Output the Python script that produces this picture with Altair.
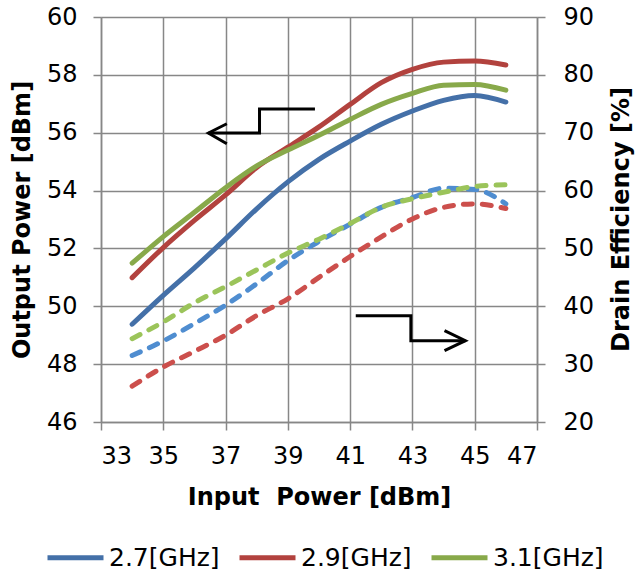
import altair as alt
import pandas as pd

# ---- data ----
pin = [34, 35, 36, 37, 38, 39, 40, 41, 42, 43, 44, 45, 46]
freqs = ["2.7[GHz]", "2.9[GHz]", "3.1[GHz]"]

pout_27 = [49.38, 50.38, 51.33, 52.33, 53.37, 54.30, 55.08, 55.71, 56.29, 56.75, 57.12, 57.29, 57.06]
pout_29 = [50.99, 52.03, 52.97, 53.85, 54.80, 55.50, 56.20, 56.98, 57.73, 58.19, 58.44, 58.48, 58.34]
pout_31 = [51.49, 52.41, 53.25, 54.10, 54.85, 55.40, 55.91, 56.46, 56.98, 57.36, 57.64, 57.67, 57.47]

eff_27 = [31.5, 34.0, 37.0, 40.2, 43.9, 47.9, 51.2, 54.2, 57.1, 58.8, 60.4, 60.2, 57.7]
eff_29 = [26.2, 29.5, 32.2, 35.0, 38.4, 41.3, 45.0, 48.6, 52.0, 55.1, 57.1, 57.7, 56.9]
eff_31 = [34.4, 37.3, 40.6, 43.4, 46.3, 49.2, 51.6, 54.3, 57.1, 58.6, 59.7, 60.7, 61.0]

x_ticks = list(range(33, 48))
left_ticks = list(range(46, 61))
right_ticks = list(range(20, 91, 10))

# annotation arrows (in input-power / output-power units)
arrow_x = [39.87, 38.09, 38.09, 36.45, 37.04, 36.45, 37.04,
           41.18, 42.95, 42.95, 44.70, 44.03, 44.70, 44.03]
arrow_y = [56.82, 56.82, 55.99, 55.99, 56.31, 55.99, 55.62,
           49.67, 49.67, 48.81, 48.81, 49.16, 48.81, 48.47]
arrow_seg = ["a", "a", "a", "a", "ah", "ah", "ah",
             "b", "b", "b", "b", "bh", "bh", "bh"]

solid_colors = ["#4470A8", "#B2423E", "#88A94A"]
dash_colors = ["#4F8DD0", "#CC4F4C", "#9BC45A"]

rows = []
for f, po, ef in zip(freqs, [pout_27, pout_29, pout_31], [eff_27, eff_29, eff_31]):
    for xv, p, e in zip(pin, po, ef):
        rows.append({"pin": xv, "freq": f, "pout": p, "eff": e})
df = pd.DataFrame(rows)
arrows = pd.DataFrame({"pin": arrow_x, "pout": arrow_y, "seg": arrow_seg,
                       "i": list(range(len(arrow_x)))})

FONT = "DejaVu Sans"
MAJOR = "#878787"
MINOR = "#c3c3c3"

x_enc = alt.X("pin:Q",
              scale=alt.Scale(domain=[33, 47], nice=False, zero=False),
              axis=alt.Axis(values=x_ticks,
                            labelExpr="datum.value % 2 === 1 ? datum.label : ''",
                            title="Input\u00a0 Power [dBm]",
                            grid=True,
                            gridColor={"condition": {"test": "datum.value % 2 === 1", "value": MAJOR}, "value": MINOR},
                            gridWidth=1.5,
                            tickColor={"condition": {"test": "datum.value % 2 === 1", "value": MAJOR}, "value": "transparent"},
                            tickSize=8, tickWidth=1.5,
                            domainColor=MAJOR, domainWidth=1.5,
                            labelPadding=14, titlePadding=17,
                            labelFontSize=24, titleFontSize=24,
                            labelFont=FONT, titleFont=FONT,
                            labelColor="black", titleColor="black",
                            titleFontWeight="bold"))

left_y = alt.Y("pout:Q",
               scale=alt.Scale(domain=[46, 60], nice=False, zero=False),
               axis=alt.Axis(values=left_ticks,
                             labelExpr="datum.value % 2 === 0 ? datum.label : ''",
                             title="Output Power [dBm]",
                             grid=True,
                             gridColor={"condition": {"test": "datum.value % 2 === 0", "value": MAJOR}, "value": MINOR},
                             gridWidth=1.5,
                             tickColor={"condition": {"test": "datum.value % 2 === 0", "value": MAJOR}, "value": "transparent"},
                             tickSize=8, tickWidth=1.5,
                             domainColor=MAJOR, domainWidth=1.5,
                             labelPadding=16, titlePadding=12,
                             labelFontSize=24, titleFontSize=24,
                             labelFont=FONT, titleFont=FONT,
                             labelColor="black", titleColor="black",
                             titleFontWeight="bold"))

base = alt.Chart(df)

solid = base.mark_line(strokeWidth=5, interpolate="monotone", strokeCap="round").encode(
    x=x_enc,
    y=left_y,
    color=alt.Color("freq:N",
                    scale=alt.Scale(domain=freqs, range=solid_colors),
                    legend=alt.Legend(title=None, orient="none", direction="horizontal",
                                      legendX=-56, legendY=510,
                                      symbolType="stroke", symbolSize=3136,
                                      symbolStrokeWidth=5,
                                      labelFontSize=25, labelFont=FONT, labelColor="black",
                                      labelOffset=3, columnPadding=9)),
)

arrow_layer = alt.Chart(arrows).mark_line(color="black", strokeWidth=3,
                                          strokeJoin="miter", strokeCap="butt").encode(
    x=alt.X("pin:Q"),
    y=alt.Y("pout:Q"),
    detail="seg:N",
    order="i:Q",
)

left_group = alt.layer(solid, arrow_layer)

dashed = base.mark_line(strokeWidth=5, interpolate="monotone",
                        strokeDash=[9, 10], strokeCap="round").encode(
    x=alt.X("pin:Q"),
    y=alt.Y("eff:Q",
            scale=alt.Scale(domain=[20, 90], nice=False, zero=False),
            axis=alt.Axis(orient="right", values=right_ticks, grid=False,
                          title="Drain Efficiency [%]",
                          tickColor=MAJOR, tickSize=8, tickWidth=1.5,
                          domainColor=MAJOR, domainWidth=1.5,
                          labelPadding=18,
                          titleAngle=270, titleX=84, titleY=202,
                          titleAlign="center", titleBaseline="middle",
                          labelFontSize=24, titleFontSize=24,
                          labelFont=FONT, titleFont=FONT,
                          labelColor="black", titleColor="black",
                          titleFontWeight="bold")),
    color=alt.Color("freq:N", scale=alt.Scale(domain=freqs, range=dash_colors), legend=None),
)

chart = alt.layer(left_group, dashed).resolve_scale(
    y="independent", color="independent"
).properties(
    width=436, height=405,
    autosize=alt.AutoSizeParams(type="none"),
    padding={"left": 101, "top": 17, "right": 99, "bottom": 152},
    background="white",
).configure_view(stroke=None)

chart.save("out.html", embed_options={"renderer": "svg", "actions": False})
